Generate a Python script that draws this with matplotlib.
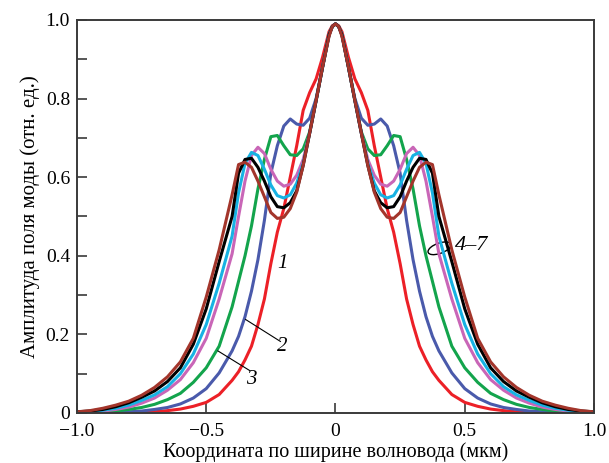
import matplotlib

matplotlib.use("Agg")

import matplotlib.pyplot as plt
import numpy as np
from matplotlib.patches import Ellipse
from matplotlib.ticker import MultipleLocator

# half-profile (x >= 0), curves are symmetric about x = 0
half_x = [0.0, 0.0125, 0.025, 0.05, 0.075, 0.1, 0.125, 0.15, 0.175, 0.2, 0.225,
          0.25, 0.275, 0.3, 0.325, 0.35, 0.375, 0.4, 0.45, 0.5, 0.55,
          0.6, 0.65, 0.7, 0.75, 0.8, 0.85, 0.9, 0.95, 1.0]

curve_1 = [0.99, 0.985, 0.97, 0.905, 0.85, 0.815, 0.77, 0.68, 0.60, 0.52, 0.46,
           0.38, 0.29, 0.225, 0.17, 0.135, 0.105, 0.083, 0.047, 0.027, 0.017,
           0.01, 0.006, 0.003, 0.001, 0.0, 0.0, 0.0, 0.0, 0.0]
curve_2 = [0.99, 0.983, 0.962, 0.88, 0.80, 0.75, 0.732, 0.735, 0.748, 0.73, 0.68,
           0.61, 0.49, 0.39, 0.31, 0.245, 0.195, 0.158, 0.102, 0.062, 0.038,
           0.023, 0.014, 0.009, 0.005, 0.003, 0.002, 0.001, 0.0, 0.0]
curve_3 = [0.99, 0.983, 0.962, 0.88, 0.795, 0.715, 0.672, 0.655, 0.657, 0.68, 0.706,
           0.703, 0.645, 0.57, 0.476, 0.40, 0.335, 0.27, 0.17, 0.115, 0.078,
           0.05, 0.034, 0.022, 0.014, 0.009, 0.005, 0.003, 0.001, 0.0]
curve_4 = [0.99, 0.983, 0.962, 0.88, 0.795, 0.712, 0.645, 0.605, 0.582, 0.577, 0.59,
           0.62, 0.66, 0.676, 0.655, 0.59, 0.50, 0.405, 0.29, 0.19, 0.128,
           0.085, 0.058, 0.038, 0.025, 0.015, 0.009, 0.005, 0.003, 0.001]
curve_5 = [0.99, 0.983, 0.962, 0.88, 0.795, 0.712, 0.635, 0.585, 0.555, 0.547, 0.553,
           0.58, 0.62, 0.655, 0.663, 0.635, 0.56, 0.45, 0.33, 0.225, 0.15,
           0.10, 0.067, 0.046, 0.032, 0.02, 0.012, 0.007, 0.004, 0.002]
curve_6 = [0.99, 0.983, 0.962, 0.88, 0.795, 0.712, 0.63, 0.565, 0.535, 0.522, 0.525,
           0.55, 0.59, 0.625, 0.648, 0.645, 0.61, 0.50, 0.385, 0.265, 0.175,
           0.115, 0.08, 0.056, 0.04, 0.026, 0.016, 0.009, 0.005, 0.003]
curve_7 = [0.99, 0.983, 0.958, 0.88, 0.795, 0.712, 0.63, 0.562, 0.52, 0.498, 0.495,
           0.51, 0.55, 0.59, 0.625, 0.638, 0.632, 0.555, 0.415, 0.295, 0.19,
           0.13, 0.092, 0.065, 0.045, 0.03, 0.02, 0.012, 0.006, 0.003]

curves = [curve_1, curve_2, curve_3, curve_4, curve_5, curve_6, curve_7]
colors = ["#ec2027", "#4a5aab", "#13a44c", "#c966b7", "#17b2e3", "#000000", "#a3352b"]

plt.rcParams["font.family"] = ["Liberation Serif", "DejaVu Serif"]

fig = plt.figure(figsize=(6.09, 4.63), dpi=100)
ax = fig.add_axes([0.1264, 0.108, 0.849, 0.849])

hx = np.array(half_x)
full_x = np.concatenate([-hx[::-1], hx[1:]])
for values, color in zip(curves, colors):
    hy = np.array(values)
    full_y = np.concatenate([hy[::-1], hy[1:]])
    ax.plot(full_x, full_y, color=color, lw=2.2, solid_joinstyle="round")

ax.set_xlim(-1.0, 1.0)
ax.set_ylim(0.0, 1.0)
ax.set_xticks([-1.0, -0.5, 0.0, 0.5, 1.0])
ax.set_xticklabels(["\u22121.0", "\u22120.5", "0", "0.5", "1.0"])
ax.set_yticks([0.0, 0.2, 0.4, 0.6, 0.8, 1.0])
ax.set_yticklabels(["0", "0.2", "0.4", "0.6", "0.8", "1.0"])
ax.yaxis.set_minor_locator(MultipleLocator(0.1))
ax.tick_params(axis="both", which="both", direction="in", length=7,
               width=1.2, color="#3a3a3a", labelsize=14)
ax.tick_params(axis="x", pad=7)
ax.tick_params(axis="y", pad=5)
for spine in ax.spines.values():
    spine.set_color("#3a3a3a")
    spine.set_linewidth(1.4)

ax.set_xlabel("Координата по ширине волновода (мкм)", fontsize=14.5, labelpad=2)
ax.set_ylabel("Амплитуда поля моды (отн. ед.)", fontsize=15, labelpad=4)

# curve labels
label_style = dict(fontsize=15, style="italic", ha="center", va="center")
ax.text(-0.204, 0.381, "1", **label_style)
ax.text(-0.206, 0.169, "2", **label_style)
ax.text(-0.326, 0.086, "3", **label_style)
ax.plot([-0.348, -0.213], [0.238, 0.182], color="black", lw=0.8)
ax.plot([-0.455, -0.332], [0.158, 0.108], color="black", lw=0.8)
ax.add_patch(Ellipse((0.402, 0.419), 0.09, 0.027, angle=12, fill=False,
                     edgecolor="black", lw=1.0))
ax.text(0.462, 0.427, "4\u20137", fontsize=16, style="italic", ha="left", va="center")

fig.savefig("out.png", dpi=100)
